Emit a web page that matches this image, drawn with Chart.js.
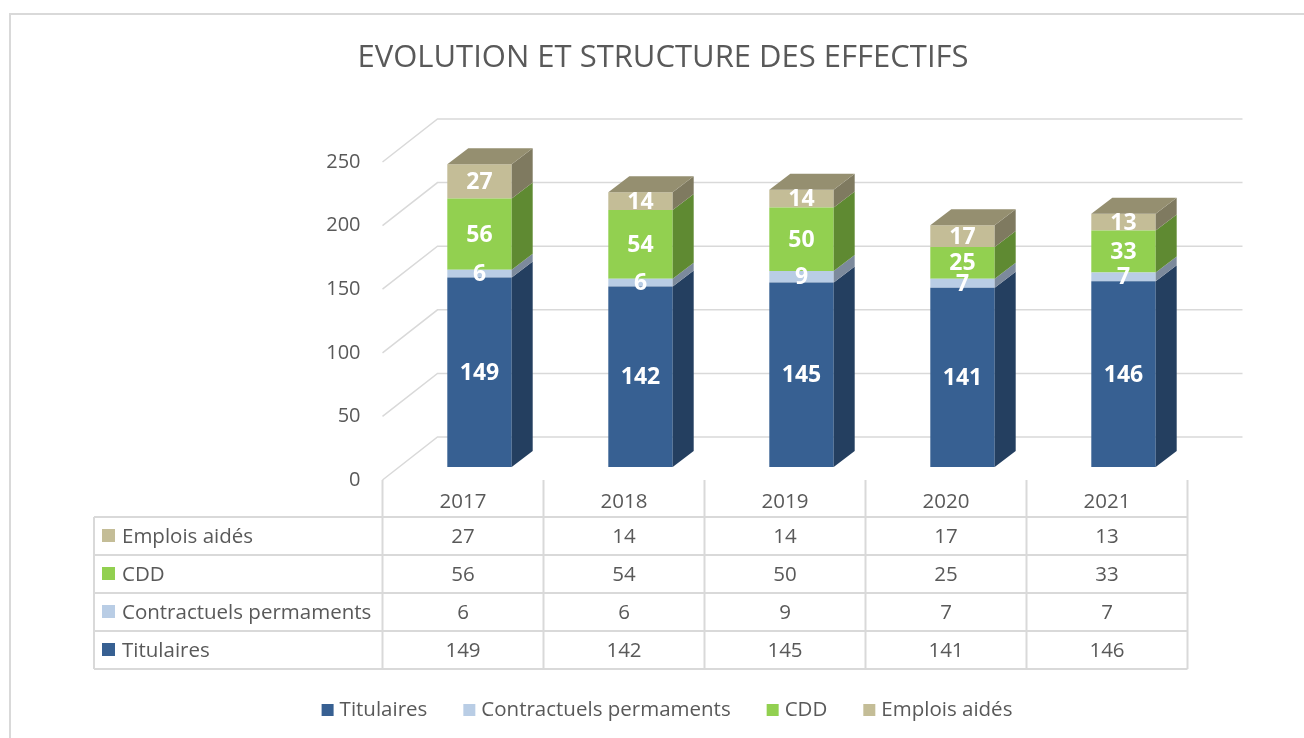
<!DOCTYPE html>
<html>
<head>
<meta charset="utf-8">
<script src="https://cdn.jsdelivr.net/npm/chart.js@4/dist/chart.umd.min.js"></script>
<style>
  html, body { margin: 0; padding: 0; background: #fff; overflow: hidden; }
</style>
</head>
<body>
<canvas id="effectifs" width="1304" height="738"></canvas>
<script>
// data
const years = ['2017', '2018', '2019', '2020', '2021'];
const titulaires = [149, 142, 145, 141, 146];
const contractuels = [6, 6, 9, 7, 7];
const cdd = [56, 54, 50, 25, 33];
const emploisAides = [27, 14, 14, 17, 13];
const seriesNames = ['Titulaires', 'Contractuels permaments', 'CDD', 'Emplois aidés'];
const yTicks = [0, 50, 100, 150, 200, 250];
const chartTitle = 'EVOLUTION ET STRUCTURE DES EFFECTIFS';

// front / side / top colours per series
const fronts = ['#376092', '#b9cde5', '#92d050', '#c4bd97'];
const sides = ['#243f60', '#7c8a9c', '#5f8a32', '#7f7a60'];
const tops = ['#2d4f78', '#95a5b8', '#74a640', '#958f70'];

const FONT = '"Open Sans", "Liberation Sans", sans-serif';
const TEXT = '#595959';
const GRID = '#d9d9d9';
const DEPTH = { dx: 21, dy: -16 };      // bar depth
const WALL_FRONT = { dx: -16.5, dy: 13 }; // floor front edge vs bar plane
const WALL_BACK = { dx: 38.5, dy: -30 };  // back wall vs bar plane

const threeD = {
  id: 'threeD',
  beforeDatasetsDraw(chart) {
    const ctx = chart.ctx, a = chart.chartArea, ys = chart.scales.y, xs = chart.scales.x;
    ctx.save();
    // outer frame
    ctx.strokeStyle = GRID; ctx.lineWidth = 2;
    ctx.beginPath();
    ctx.moveTo(10, 740); ctx.lineTo(10, 14); ctx.lineTo(1310, 14);
    ctx.stroke();
    // title
    ctx.fillStyle = TEXT;
    ctx.font = '31px ' + FONT;
    ctx.textAlign = 'center'; ctx.textBaseline = 'middle';
    ctx.fillText(chartTitle, 663, 58);
    // walls
    ctx.strokeStyle = GRID; ctx.lineWidth = 1.5;
    yTicks.forEach(v => {
      const y = ys.getPixelForValue(v);
      ctx.beginPath();
      ctx.moveTo(a.left + WALL_FRONT.dx, y + WALL_FRONT.dy);
      ctx.lineTo(a.left + WALL_BACK.dx, y + WALL_BACK.dy);
      ctx.lineTo(a.right + WALL_BACK.dx, y + WALL_BACK.dy);
      ctx.stroke();
    });
    // y tick labels
    ctx.fillStyle = TEXT;
    ctx.font = '20px ' + FONT;
    ctx.textAlign = 'right';
    yTicks.forEach(v => {
      const y = ys.getPixelForValue(v);
      ctx.fillText(String(v), a.left + WALL_FRONT.dx - 22, y + WALL_FRONT.dy);
    });

    // data table
    const n = years.length;
    const colW = (a.right - a.left) / n;
    const left = 94;
    const colStart = a.left + WALL_FRONT.dx;
    const right = a.right + WALL_FRONT.dx;
    const headTop = a.bottom + WALL_FRONT.dy;
    const rowTop = headTop + 37;
    const rowH = 38;
    const rows = chart.data.datasets.slice().reverse();
    ctx.strokeStyle = GRID; ctx.lineWidth = 2;
    ctx.beginPath();
    for (let r = 0; r <= rows.length; r++) {
      ctx.moveTo(left, rowTop + r * rowH);
      ctx.lineTo(right, rowTop + r * rowH);
    }
    ctx.moveTo(left, rowTop); ctx.lineTo(left, rowTop + rows.length * rowH);
    for (let c = 0; c <= n; c++) {
      const x = colStart + c * colW;
      ctx.moveTo(x, headTop); ctx.lineTo(x, rowTop + rows.length * rowH);
    }
    ctx.stroke();
    ctx.fillStyle = TEXT;
    ctx.font = '20.5px ' + FONT;
    ctx.textAlign = 'center';
    years.forEach((yr, i) => {
      const cx = xs.getPixelForValue(i) + WALL_FRONT.dx;
      ctx.fillText(yr, cx, headTop + 22);
    });
    rows.forEach((ds, r) => {
      const cy = rowTop + r * rowH + rowH / 2;
      ctx.fillStyle = ds.backgroundColor;
      ctx.fillRect(102, cy - 7, 13, 13);
      ctx.fillStyle = TEXT;
      ctx.textAlign = 'left';
      ctx.fillText(ds.label, 122, cy + 1);
      ctx.textAlign = 'center';
      ds.data.forEach((v, i) => {
        const cx = xs.getPixelForValue(i) + WALL_FRONT.dx;
        ctx.fillText(String(v), cx, cy + 1);
      });
    });

    // legend
    ctx.font = '20.5px ' + FONT;
    const items = chart.data.datasets.map(ds => ({ ds, w: 18 + ctx.measureText(ds.label).width }));
    const gap = 36;
    const total = items.reduce((s, it) => s + it.w, 0) + gap * (items.length - 1);
    let lx = 667 - total / 2;
    const ly = 710;
    items.forEach(it => {
      ctx.fillStyle = it.ds.backgroundColor;
      ctx.fillRect(lx, ly - 6, 12, 12);
      ctx.fillStyle = TEXT;
      ctx.textAlign = 'left';
      ctx.fillText(it.ds.label, lx + 18, ly);
      lx += it.w + gap;
    });
    ctx.restore();
  },
  afterDatasetsDraw(chart) {
    const ctx = chart.ctx;
    const last = chart.data.datasets.length - 1;
    ctx.save();
    chart.data.datasets.forEach((ds, d) => {
      const meta = chart.getDatasetMeta(d);
      meta.data.forEach(el => {
        const l = el.x - el.width / 2, r = el.x + el.width / 2;
        // side face
        ctx.fillStyle = sides[d];
        ctx.beginPath();
        ctx.moveTo(r, el.base);
        ctx.lineTo(r, el.y);
        ctx.lineTo(r + DEPTH.dx, el.y + DEPTH.dy);
        ctx.lineTo(r + DEPTH.dx, el.base + DEPTH.dy);
        ctx.closePath();
        ctx.fill();
        if (d === last) {
          ctx.fillStyle = tops[d];
          ctx.beginPath();
          ctx.moveTo(l, el.y);
          ctx.lineTo(r, el.y);
          ctx.lineTo(r + DEPTH.dx, el.y + DEPTH.dy);
          ctx.lineTo(l + DEPTH.dx, el.y + DEPTH.dy);
          ctx.closePath();
          ctx.fill();
        }
      });
    });
    // value labels
    ctx.fillStyle = '#ffffff';
    ctx.font = 'bold 23px ' + FONT;
    ctx.textAlign = 'center'; ctx.textBaseline = 'middle';
    chart.data.datasets.forEach((ds, d) => {
      chart.getDatasetMeta(d).data.forEach((el, i) => {
        ctx.fillText(String(ds.data[i]), el.x, (el.y + el.base) / 2 + 1);
      });
    });
    ctx.restore();
  }
};

const seriesData = [titulaires, contractuels, cdd, emploisAides];

new Chart(document.getElementById('effectifs').getContext('2d'), {
  type: 'bar',
  data: {
    labels: years,
    datasets: seriesNames.map((name, i) => ({
      label: name,
      data: seriesData[i],
      backgroundColor: fronts[i],
      borderWidth: 0,
      barPercentage: 0.4,
      categoryPercentage: 1
    }))
  },
  options: {
    responsive: false,
    animation: false,
    layout: { padding: { left: 399, right: 100, top: 149, bottom: 271 } },
    scales: {
      x: { stacked: true, display: false },
      y: { stacked: true, display: false, min: 0, max: 250 }
    },
    plugins: {
      legend: { display: false },
      title: { display: false },
      tooltip: { enabled: false }
    }
  },
  plugins: [threeD]
});
</script>
</body>
</html>
